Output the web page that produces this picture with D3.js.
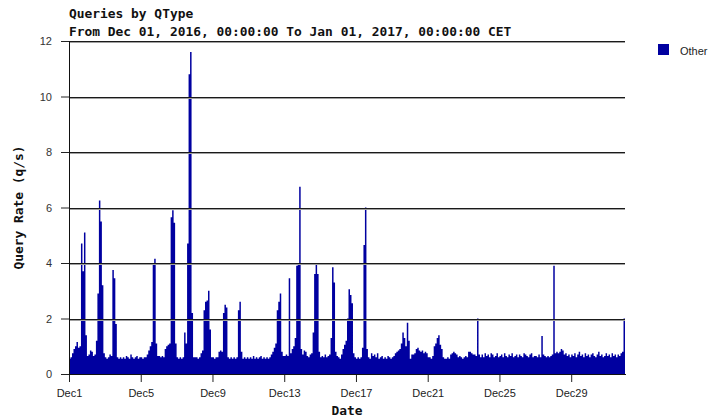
<!DOCTYPE html>
<html>
<head>
<meta charset="utf-8">
<script src="https://cdn.jsdelivr.net/npm/d3@7"></script>
<style>
  body { margin: 0; background: #fff; }
  svg { display: block; }
</style>
</head>
<body>
<svg id="chart" width="711" height="419"></svg>
<script>
// Series name and time settings
const seriesName = "Other";
const startDate = new Date(Date.UTC(2016, 11, 1));
const endDate = new Date(Date.UTC(2017, 0, 1));
const stepHours = 2;

// Tick labels
const xTickDays = [1, 5, 9, 13, 17, 21, 25, 29];
const xTickLabels = ["Dec1", "Dec5", "Dec9", "Dec13", "Dec17", "Dec21", "Dec25", "Dec29"];
const yTicks = [0, 2, 4, 6, 8, 10, 12];

// Query rate (q/s), one row per day, 12 two-hour samples each
const rates = [
  [0.55, 0.6, 0.75, 0.9, 1.0, 1.15, 0.95, 1.0, 4.7, 3.7, 5.1, 1.4],      // Dec 1
  [0.65, 0.7, 0.85, 0.8, 0.65, 0.7, 1.2, 2.9, 6.25, 5.5, 3.2, 0.75],     // Dec 2
  [0.6, 0.55, 0.6, 0.7, 0.65, 3.75, 3.45, 1.8, 0.6, 0.55, 0.6, 0.55],    // Dec 3
  [0.6, 0.55, 0.65, 0.6, 0.55, 0.7, 0.6, 0.55, 0.6, 0.65, 0.55, 0.6],    // Dec 4
  [0.6, 0.55, 0.6, 0.6, 0.7, 0.85, 1.0, 1.15, 4.0, 4.15, 1.1, 0.65],     // Dec 5
  [0.65, 0.6, 0.65, 0.6, 0.9, 1.0, 1.05, 1.1, 5.65, 5.9, 5.45, 1.1],     // Dec 6
  [0.6, 0.55, 0.6, 0.55, 0.6, 1.5, 1.1, 4.7, 10.8, 11.6, 2.2, 0.6],      // Dec 7
  [0.6, 0.6, 0.55, 0.6, 0.75, 0.85, 2.3, 2.6, 2.65, 3.0, 1.6, 0.6],      // Dec 8
  [0.6, 0.55, 0.6, 0.6, 0.8, 0.85, 0.8, 2.2, 2.5, 2.4, 0.6, 0.55],       // Dec 9
  [0.6, 0.55, 0.6, 0.55, 0.6, 2.3, 2.6, 0.8, 0.55, 0.6, 0.55, 0.6],      // Dec 10
  [0.55, 0.6, 0.55, 0.65, 0.55, 0.6, 0.55, 0.6, 0.65, 0.55, 0.6, 0.55],  // Dec 11
  [0.6, 0.55, 0.6, 0.7, 0.8, 0.95, 1.1, 2.3, 2.6, 2.9, 0.8, 0.65],       // Dec 12
  [0.65, 0.7, 0.65, 3.45, 0.75, 0.9, 1.0, 1.3, 3.9, 3.95, 6.75, 0.9],    // Dec 13
  [0.7, 0.85, 0.8, 0.65, 0.6, 0.7, 0.75, 1.5, 3.6, 3.95, 3.6, 0.8],      // Dec 14
  [0.6, 0.65, 0.6, 0.7, 0.6, 0.65, 0.7, 1.3, 3.85, 3.3, 0.8, 0.65],      // Dec 15
  [0.6, 0.55, 0.7, 0.9, 1.05, 1.2, 2.0, 3.05, 2.85, 2.55, 0.75, 0.6],    // Dec 16
  [0.55, 0.6, 0.55, 0.6, 0.95, 4.65, 6.0, 0.9, 0.6, 0.55, 0.75, 0.65],   // Dec 17
  [0.7, 0.6, 0.75, 0.55, 0.6, 0.65, 0.55, 0.6, 0.55, 0.65, 0.6, 0.55],   // Dec 18
  [0.6, 0.65, 0.75, 0.8, 0.85, 0.9, 1.1, 1.5, 1.3, 1.0, 1.85, 1.2],      // Dec 19
  [0.55, 0.7, 0.7, 0.75, 0.9, 0.95, 0.85, 0.8, 0.85, 0.75, 0.8, 0.75],   // Dec 20
  [0.6, 0.6, 0.55, 0.65, 1.0, 1.1, 1.3, 1.4, 1.05, 0.9, 0.6, 0.55],      // Dec 21
  [0.55, 0.6, 0.55, 0.7, 0.75, 0.8, 0.75, 0.7, 0.6, 0.65, 0.6, 0.55],    // Dec 22
  [0.6, 0.65, 0.6, 0.8, 0.8, 0.75, 0.7, 0.7, 0.65, 2.0, 0.7, 0.6],       // Dec 23
  [0.7, 0.6, 0.75, 0.65, 0.7, 0.6, 0.75, 0.7, 0.6, 0.65, 0.75, 0.6],     // Dec 24
  [0.65, 0.7, 0.6, 0.75, 0.65, 0.6, 0.7, 0.65, 0.75, 0.6, 0.65, 0.7],    // Dec 25
  [0.6, 0.7, 0.65, 0.6, 0.75, 0.7, 0.65, 0.6, 0.7, 0.75, 0.6, 0.65],     // Dec 26
  [0.65, 0.6, 0.7, 0.6, 1.37, 0.7, 0.65, 0.6, 0.65, 0.6, 0.65, 0.7],     // Dec 27
  [3.9, 0.75, 0.8, 0.75, 0.8, 0.9, 0.85, 0.7, 0.75, 0.65, 0.7, 0.6],     // Dec 28
  [0.7, 0.65, 0.75, 0.6, 0.7, 0.8, 0.65, 0.7, 0.6, 0.75, 0.65, 0.7],     // Dec 29
  [0.6, 0.7, 0.75, 0.65, 0.6, 0.7, 0.8, 0.65, 0.7, 0.6, 0.65, 0.75],     // Dec 30
  [0.65, 0.7, 0.6, 0.75, 0.65, 0.7, 0.6, 0.7, 0.65, 0.75, 0.8, 2.0]      // Dec 31
];

const svg = d3.select("#chart");
const plotLeft = 69, plotRight = 625, plotTop = 41, plotBottom = 374;
const monoFont = "'DejaVu Sans Mono', monospace";
const sansFont = "'Liberation Sans', Arial, sans-serif";
const titleSize = 12.9;

const x = d3.scaleUtc().domain([startDate, endDate]).range([plotLeft, plotRight]);
const y = d3.scaleLinear().domain([0, 12]).range([plotBottom, plotTop]);

// flatten samples into time points
const points = rates.flat().map((v, i) => ({
  t: new Date(startDate.getTime() + i * stepHours * 3600e3),
  v: v
}));
points.push({ t: endDate, v: points[points.length - 1].v });

// filled step area
const area = d3.area()
  .curve(d3.curveStepAfter)
  .x(d => x(d.t))
  .y0(y(0))
  .y1(d => y(d.v));

svg.append("path")
  .datum(points)
  .attr("d", area)
  .attr("fill", "#0000a0");

// grid lines (drawn over the data)
const grid = svg.append("g");
yTicks.filter(v => v > 0).forEach(v => {
  const yy = Math.round(y(v));
  grid.append("line")
    .attr("x1", plotLeft).attr("x2", plotRight)
    .attr("y1", yy + 0.5).attr("y2", yy + 0.5)
    .attr("stroke", "#1a1a1a");
  grid.append("line")
    .attr("x1", plotLeft).attr("x2", plotRight)
    .attr("y1", yy + 1.5).attr("y2", yy + 1.5)
    .attr("stroke", "#a0a0a0");
});

// y axis
const yAxis = svg.append("g")
  .attr("transform", `translate(${plotLeft},0)`)
  .call(d3.axisLeft(y).tickValues(yTicks).tickSize(8).tickPadding(9));
yAxis.select(".domain").remove();
yAxis.selectAll("line").attr("stroke", "#222");
yAxis.selectAll("text")
  .attr("font-family", sansFont).attr("font-size", 11).attr("fill", "#333");

// x axis
const xTickDates = xTickDays.map(d => new Date(Date.UTC(2016, 11, d)));
const xAxis = svg.append("g")
  .attr("transform", `translate(0,${plotBottom})`)
  .call(d3.axisBottom(x).tickValues(xTickDates).tickSize(8).tickPadding(7)
    .tickFormat((d, i) => xTickLabels[i]));
xAxis.select(".domain").remove();
xAxis.selectAll("line").attr("stroke", "#222");
xAxis.selectAll("text")
  .attr("font-family", sansFont).attr("font-size", 11).attr("fill", "#222");

// axis lines
svg.append("line")
  .attr("x1", plotLeft + 0.5).attr("x2", plotLeft + 0.5)
  .attr("y1", plotTop).attr("y2", plotBottom + 1)
  .attr("stroke", "#111");
svg.append("line")
  .attr("x1", plotLeft).attr("x2", plotRight + 1)
  .attr("y1", plotBottom + 0.5).attr("y2", plotBottom + 0.5)
  .attr("stroke", "#111");

// titles
svg.append("text")
  .attr("x", plotLeft).attr("y", 18)
  .attr("font-family", monoFont).attr("font-weight", "bold").attr("font-size", titleSize)
  .attr("fill", "#111")
  .text("Queries by QType");
svg.append("text")
  .attr("x", plotLeft).attr("y", 36)
  .attr("font-family", monoFont).attr("font-weight", "bold").attr("font-size", titleSize)
  .attr("fill", "#111")
  .text("From Dec 01, 2016, 00:00:00 To Jan 01, 2017, 00:00:00 CET");

svg.append("text")
  .attr("x", (plotLeft + plotRight) / 2).attr("y", 415)
  .attr("text-anchor", "middle")
  .attr("font-family", monoFont).attr("font-weight", "bold").attr("font-size", titleSize)
  .attr("fill", "#111")
  .text("Date");

svg.append("text")
  .attr("transform", `translate(23,${(plotTop + plotBottom) / 2}) rotate(-90)`)
  .attr("text-anchor", "middle")
  .attr("font-family", monoFont).attr("font-weight", "bold").attr("font-size", titleSize)
  .attr("fill", "#111")
  .text("Query Rate (q/s)");

// legend
svg.append("rect")
  .attr("x", 658).attr("y", 44).attr("width", 11).attr("height", 11)
  .attr("fill", "#0000a0");
svg.append("text")
  .attr("x", 680).attr("y", 55)
  .attr("font-family", sansFont).attr("font-size", 11).attr("fill", "#222")
  .text(seriesName);
</script>
</body>
</html>
